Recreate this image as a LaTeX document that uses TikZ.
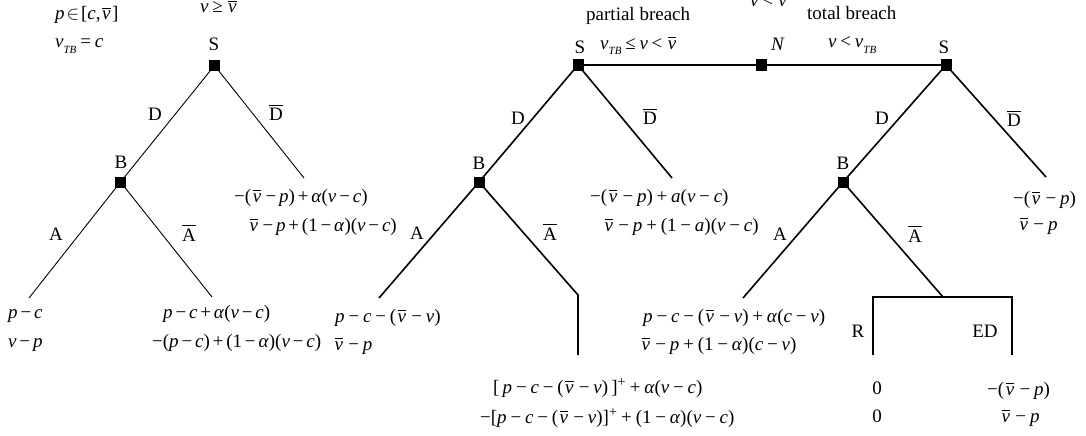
\documentclass[tikz,border=0pt]{standalone}
\usepackage{mathptmx}
\usepackage{fontspec}
\setmainfont{Liberation Serif}
\newlength{\opsp}
\setlength{\opsp}{0.15em}
\newcommand{\I}[1]{\textit{#1}}
\newcommand{\bo}[1]{\hspace{\opsp}#1\hspace{\opsp}}
\newcommand{\mi}{\bo{−}}
\newcommand{\pl}{\bo{+}}
\newcommand{\re}[1]{\hspace{0.2em}#1\hspace{0.2em}}
\newcommand{\vb}{\hspace{0.08em}$\overline{\hbox{\textit{v}}}$\hspace{0.08em}}
\newcommand{\sbt}[1]{\raisebox{-0.28em}{\fontsize{11}{11}\selectfont\textit{#1}}}
\newcommand{\Db}{$\overline{\hbox{D}}$}
\newcommand{\Ab}{$\overline{\hbox{A}}$}
\begin{document}
\begin{tikzpicture}[x=1pt,y=-1pt,
  every node/.style={inner sep=0pt, font=\fontsize{19}{23}\selectfont},
  txt/.style={anchor=base},
  txtw/.style={anchor=base west},
  mth/.style={anchor=base west, execute at begin node={\setlength{\opsp}{0.15em}}},
  mthw/.style={anchor=base west, execute at begin node={\setlength{\opsp}{0.2em}}},
  dec/.style={rectangle, fill=black, minimum size=11pt, inner sep=0pt},
  thinedge/.style={line width=0.9pt},
  thickedge/.style={line width=1.6pt},
]
\useasboundingbox (0,0) rectangle (1086,436);

% ---------------- left tree ----------------
\coordinate (D1e) at (304,178);
\coordinate (A1e) at (29,298);
\coordinate (Ab1e) at (212,297);
\node[dec] (S1) at (214.5,65.5) {};
\node[dec] (B1) at (120.5,182) {};
\draw[thinedge] (S1.center) -- (B1.center);
\draw[thinedge] (S1.center) -- (D1e);
\draw[thinedge] (B1.center) -- (A1e);
\draw[thinedge] (B1.center) -- (Ab1e);

\node[mth] (t1) at (55,20) {\I{p}\hspace{0.1em}$\in$\hspace{0.1em}[\I{c},\vb]};
\node[mth] (t2) at (55,48) {\I{v}\sbt{TB}\re{=}\I{c}};
\node[mth] (t3) at (200,13) {\I{v}\re{≥}\vb};
\node[txt] (lS1) at (214,51) {S};
\node[txt] (lD1) at (155,120) {D};
\node[txt] (lDb1) at (276,120) {\Db};
\node[txt] (lB1) at (121,168) {B};
\node[txt] (lA1) at (56,240) {A};
\node[txt] (lAb1) at (189,241) {\Ab};
\node[mth] (p1a) at (234,202) {−(\vb\mi\I{p})\pl\I{α}(\I{v}\mi\I{c})};
\node[mth] (p1b) at (248,231) {\vb\mi\I{p}\pl(1\mi\I{α})(\I{v}\mi\I{c})};
\node[mth] (p2a) at (8,318) {\I{p}\mi\I{c}};
\node[mth] (p2b) at (8,347) {\I{v}\mi\I{p}};
\node[mth] (p3a) at (163,318) {\I{p}\mi\I{c}\pl\I{α}(\I{v}\mi\I{c})};
\node[mth] (p3b) at (152,347) {−(\I{p}\mi\I{c})\pl(1\mi\I{α})(\I{v}\mi\I{c})};

% ---------------- middle and right trees ----------------
\coordinate (D2e) at (672,178);
\coordinate (A2e) at (379,298);
\coordinate (Ab2e) at (578,295);
\coordinate (Ab2f) at (578,355);
\coordinate (D3e) at (1046,177);
\coordinate (A3e) at (743,298);
\coordinate (Ab3e) at (943,297);
\coordinate (R3a) at (873,297);
\coordinate (R3b) at (873,355);
\coordinate (E3a) at (1012,297);
\coordinate (E3b) at (1012,355);

\node[dec] (S2) at (578,65) {};
\node[dec] (N) at (761,65) {};
\node[dec] (S3) at (946,65) {};
\node[dec] (B2) at (479,182) {};
\node[dec] (B3) at (843,182) {};

\draw[thickedge] (S2.center) -- (N.center) -- (S3.center);
\draw[thickedge] (S2.center) -- (B2.center);
\draw[thickedge] (S2.center) -- (D2e);
\draw[thickedge] (B2.center) -- (A2e);
\draw[thickedge] (B2.center) -- (Ab2e) -- (Ab2f);
\draw[thickedge] (S3.center) -- (B3.center);
\draw[thickedge] (S3.center) -- (D3e);
\draw[thickedge] (B3.center) -- (A3e);
\draw[thickedge] (B3.center) -- (Ab3e);
\draw[thickedge] (R3b) -- (R3a) -- (E3a) -- (E3b);

\node[txtw] (pb) at (586,21) {partial breach};
\node[txtw] (tb) at (807,20) {total breach};
\node[mth] (c1) at (600,49) {\I{v}\sbt{TB}\re{≤}\I{v}\re{<}\vb};
\node[mth] (c2) at (828,48) {\I{v}\re{<}\I{v}\sbt{TB}};
\node[mth] (c3) at (750,7) {\I{v}\re{<}\vb};
\node[txt] (lS2) at (580,53) {S};
\node[txt] (lN) at (778,51) {\I{N}};
\node[txt] (lS3) at (944,53) {S};

\node[txt] (lD2) at (518,124) {D};
\node[txt] (lDb2) at (650,124) {\Db};
\node[txt] (lB2) at (479,169) {B};
\node[txt] (lA2) at (417,239) {A};
\node[txt] (lAb2) at (550,240) {\Ab};
\node[mthw] (q1a) at (590,202) {−(\vb\mi\I{p})\pl\I{a}(\I{v}\mi\I{c})};
\node[mthw] (q1b) at (603,231) {\vb\mi\I{p}\pl(1\mi\I{a})(\I{v}\mi\I{c})};
\node[mthw] (q2a) at (335,322) {\I{p}\mi\I{c}\mi(\vb\mi\I{v})};
\node[mthw] (q2b) at (333,350) {\vb\mi\I{p}};
\node[mthw] (q3a) at (493,393) {[\,\I{p}\mi\I{c}\mi(\vb\mi\I{v})\,]\textsuperscript{+}\pl\I{α}(\I{v}\mi\I{c})};
\node[mthw] (q3b) at (480,423) {−[\I{p}\mi\I{c}\mi(\vb\mi\I{v})]\textsuperscript{+}\pl(1\mi\I{α})(\I{v}\mi\I{c})};

\node[txt] (lD3) at (882,124) {D};
\node[txt] (lDb3) at (1014,126) {\Db};
\node[txt] (lB3) at (843,169) {B};
\node[txt] (lA3) at (780,240) {A};
\node[txt] (lAb3) at (915,242) {\Ab};
\node[mthw] (r1a) at (1013,204) {−(\vb\mi\I{p})};
\node[mthw] (r1b) at (1018,230) {\vb\mi\I{p}};
\node[mthw] (r2a) at (643,322) {\I{p}\mi\I{c}\mi(\vb\mi\I{v})\pl\I{α}(\I{c}\mi\I{v})};
\node[mthw] (r2b) at (640,350) {\vb\mi\I{p}\pl(1\mi\I{α})(\I{c}\mi\I{v})};
\node[txt] (lR) at (858,337) {R};
\node[txt] (lED) at (985,337) {ED};
\node[txt] (z1) at (877,394) {0};
\node[txt] (z2) at (877,422) {0};
\node[mthw] (r3a) at (987,395) {−(\vb\mi\I{p})};
\node[mthw] (r3b) at (1000,422) {\vb\mi\I{p}};
\end{tikzpicture}
\end{document}
